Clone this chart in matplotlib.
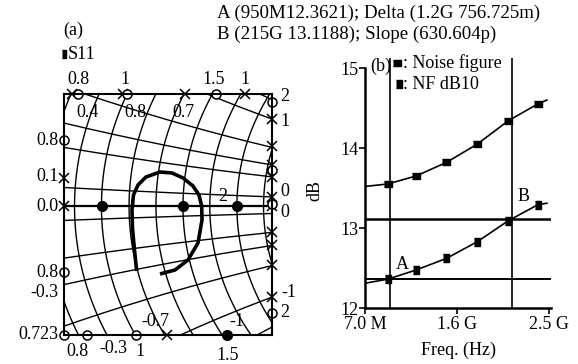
import numpy as np
import matplotlib.pyplot as plt

plt.rcParams['font.family'] = ['Liberation Serif', 'DejaVu Sans']
plt.rcParams['font.size'] = 13

# ---- (a) S11 on a zoomed Smith chart (reflection coefficient plane) ----
r_circles = [0.092, 0.134, 0.179, 0.229, 0.282, 0.34, 0.403, 0.473, 0.549]
x_arcs = [0.034, 0.105, 0.147, 0.207, 0.30, 0.36,
          -0.025, -0.092, -0.138, -0.207, -0.31, -0.40]

s11_re = [-0.6083, -0.6138, -0.6188, -0.62, -0.6163, -0.605, -0.585, -0.55, -0.52,
          -0.4925, -0.4675, -0.4525, -0.4458, -0.445, -0.455, -0.48, -0.5125, -0.55]
s11_im = [-0.1853, -0.125, -0.0618, -0.0101, 0.033, 0.0618, 0.0848, 0.0991, 0.0963,
          0.0819, 0.0589, 0.033, 0.0014, -0.0388, -0.1049, -0.1537, -0.1825, -0.194]

# marker points on the chart border / real axis
cross_re = [-0.77, -0.6425, -0.4875, -0.3375, -0.79, -0.79,
            -0.27, -0.27, -0.27, -0.27, -0.27, -0.27, -0.27, -0.27, -0.27, -0.27, -0.5333]
cross_im = [0.3233, 0.3233, 0.3233, 0.3233, 0.0819, 0.0,
            0.2514, 0.1739, 0.1193, 0.0848, 0.0273, 0.0, -0.0733, -0.1106, -0.1681, -0.26, -0.3693]
ring_re = [-0.7558, -0.6333, -0.41, -0.27, -0.27, -0.27, -0.27, -0.79, -0.79, -0.79, -0.7333, -0.61]
ring_im = [0.3233, 0.3233, 0.3233, 0.300, 0.1049, 0.0072, -0.306, 0.191, -0.188, -0.3693, -0.3693, -0.3693]
dot_re = [-0.6958, -0.4925, -0.3583, -0.3825]
dot_im = [0.0, 0.0, 0.0, -0.3693]

chart_labels = ["0.8", "1", "1.5", "1",
                "2", "1", "0", "0", "-1", "2",
                "0.4", "0.8", "0.7", "2", "-0.7", "-1",
                "0.8", "-0.3", "1", "1.5"]
chart_lab_re = [-0.755, -0.6375, -0.415, -0.3375,
                -0.2375, -0.2375, -0.2375, -0.2375, -0.2275, -0.2375,
                -0.73, -0.6125, -0.4925, -0.3925, -0.5625, -0.3575,
                -0.7575, -0.6675, -0.60, -0.38]
chart_lab_im = [0.3635, 0.3635, 0.3635, 0.3635,
                0.3147, 0.2428, 0.0417, -0.0187, -0.2486, -0.306,
                0.2687, 0.2687, 0.2687, 0.0273, -0.3319, -0.3319,
                -0.418, -0.409, -0.418, -0.4296]
left_labels = ["0.8", "0.1", "0.0", "0.8", "-0.3", "0.723"]
left_lab_im = [0.191, 0.0848, -0.0014, -0.191, -0.2486, -0.3693]

# ---- (b) noise figure ----
freq_pos = [0.245, 0.554, 0.884, 1.221, 1.555, 1.875]
nf = [13.55, 13.65, 13.82, 14.05, 14.34, 14.55]
nf_db10 = [12.36, 12.475, 12.62, 12.83, 13.09, 13.29]
line_pos = [0.0] + freq_pos + [1.975]
nf_line = [13.52] + nf + [14.60]
db10_line = [12.31] + nf_db10 + [13.31]
freq_ticks = [0, 1, 2]
freq_labels = ["7.0 M", "1.6 G", "2.5 G"]
mark_a = (0.272, 12.3621)
mark_b = (1.598, 13.1188)

fig = plt.figure(figsize=(5.78, 3.64), dpi=100)

ax = fig.add_axes([0.1107, 0.0797, 0.3599, 0.6621])
ax.set_xlim(-0.79, -0.27)
ax.set_ylim(-0.3693, 0.3233)
ax.set_xticks([])
ax.set_yticks([])
for s in ax.spines.values():
    s.set_linewidth(1.5)

t = np.linspace(0, 2 * np.pi, 4000)
for r in r_circles:
    a = 1 / (1 + r)
    ax.plot(1 - a + a * np.cos(t), a * np.sin(t), color='black', lw=1.0)
u = np.linspace(-0.9, -0.1, 2000)
for x in x_arcs:
    v = 1 / x - np.sign(x) * np.sqrt(1 / x**2 - (1 - u)**2)
    ax.plot(u, v, color='black', lw=1.0)
ax.axhline(0, color='black', lw=1.6)

ax.plot(s11_re, s11_im, color='black', lw=2.6, solid_capstyle='butt')
ax.plot(cross_re, cross_im, 'x', color='black', ms=7, mew=1.1, clip_on=False)
ax.plot(ring_re, ring_im, 'o', mfc='white', mec='black', ms=6.5, mew=1.1, clip_on=False)
ax.plot(dot_re, dot_im, 'o', color='black', ms=7, clip_on=False, zorder=5)

for txt, xx, yy in zip(chart_labels, chart_lab_re, chart_lab_im):
    ax.text(xx, yy, txt, ha='center', va='center', fontsize=13, clip_on=False)
for txt, yy in zip(left_labels, left_lab_im):
    ax.text(-0.8025, yy, txt, ha='right', va='center', fontsize=13, clip_on=False)

fig.text(0.1263, 0.9176, "(a)", ha='center', va='center', fontsize=13)
ax.plot([0.1099], [0.8516], marker=[(-0.4, -1), (0.4, -1), (0.4, 1), (-0.4, 1)],
        color='black', ms=6, transform=fig.transFigure, clip_on=False)
fig.text(0.1176, 0.849, "S11", ha='left', va='center', fontsize=13)

fig.text(0.3754, 0.964, "A (950M12.3621); Delta (1.2G 756.725m)", ha='left', va='center', fontsize=13.6)
fig.text(0.3754, 0.9066, "B (215G 13.1188); Slope (630.604p)", ha='left', va='center', fontsize=13.6)

# right panel
bx = fig.add_axes([0.6315, 0.1538, 0.3218, 0.6868])
bx.set_xlim(0, 2.02)
bx.set_ylim(12, 15.125)
bx.spines['top'].set_visible(False)
bx.spines['right'].set_visible(False)
bx.spines['left'].set_bounds(12, 15)
bx.spines['left'].set_linewidth(1.8)
bx.spines['bottom'].set_linewidth(1.8)
bx.set_yticks([12, 13, 14, 15])
bx.set_xticks(freq_ticks)
bx.set_xticklabels(freq_labels)
bx.tick_params(axis='y', length=4, width=1.2, labelsize=13, pad=1)
bx.tick_params(axis='x', length=4, width=1.2, labelsize=13, pad=2)

bx.axhline(mark_a[1], color='black', lw=1.4)
bx.axhline(mark_b[1], color='black', lw=1.8)
bx.axvline(mark_a[0], color='black', lw=1.2)
bx.axvline(mark_b[0], color='black', lw=1.2)

wide = [(-1.6, -1), (1.6, -1), (1.6, 1), (-1.6, 1)]
tall = [(-0.8, -1), (0.8, -1), (0.8, 1), (-0.8, 1)]
bx.plot(line_pos, nf_line, color='black', lw=1.2)
bx.plot(freq_pos, nf, linestyle='none', marker=wide, color='black', ms=6)
bx.plot(line_pos, db10_line, color='black', lw=1.2)
bx.plot(freq_pos, nf_db10, linestyle='none', marker=tall, color='black', ms=5.5)

bx.text(0.40, 12.54, "A", ha='center', va='center', fontsize=13)
bx.text(1.717, 13.40, "B", ha='center', va='center', fontsize=13)
bx.text(0.027, 0.965, "(b)", transform=bx.transAxes, ha='left', va='center', fontsize=13)
bx.plot([0.172], [0.98], marker=wide, color='black', ms=6, transform=bx.transAxes, clip_on=False)
bx.plot([0.183], [0.896], marker=tall, color='black', ms=5.5, transform=bx.transAxes, clip_on=False)
bx.text(0.205, 0.98, ": Noise figure", transform=bx.transAxes, ha='left', va='center', fontsize=13)
bx.text(0.205, 0.896, ": NF dB10", transform=bx.transAxes, ha='left', va='center', fontsize=13)

bx.set_ylabel("dB", fontsize=13)
bx.yaxis.set_label_coords(-0.226, 0.472)
bx.set_xlabel("Freq. (Hz)", fontsize=13)
bx.xaxis.set_label_coords(0.5, -0.136)

fig.savefig("out.png", dpi=100)
